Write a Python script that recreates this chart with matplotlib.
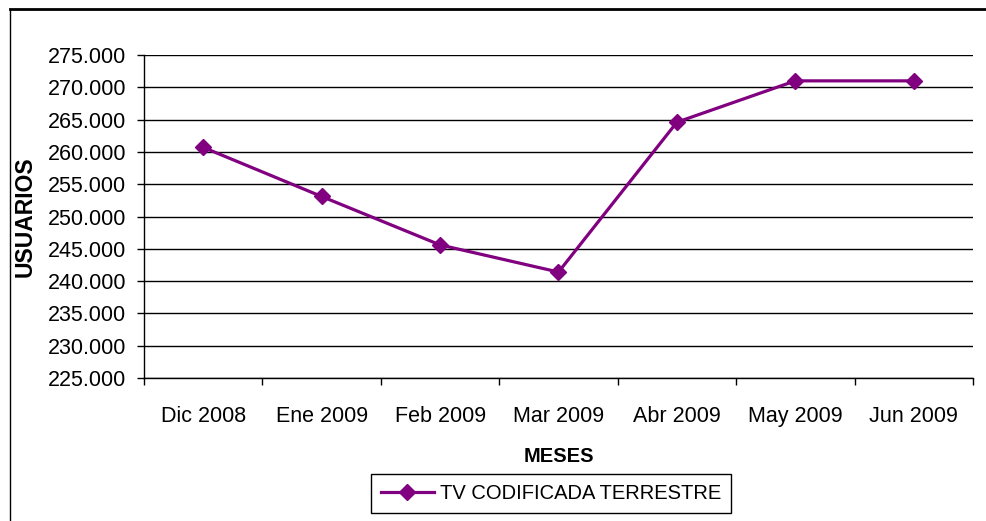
import matplotlib.pyplot as plt
from matplotlib.lines import Line2D
from matplotlib.ticker import FuncFormatter

# datos de usuarios por mes
meses = ['Dic 2008', 'Ene 2009', 'Feb 2009', 'Mar 2009', 'Abr 2009', 'May 2009', 'Jun 2009']
usuarios = [260700, 253100, 245600, 241400, 264600, 271000, 271000]
serie = 'TV CODIFICADA TERRESTRE'

plt.rcParams['font.family'] = ['Liberation Sans', 'DejaVu Sans']
morado = '#800080'

fig = plt.figure(figsize=(9.87, 5.21), dpi=100)
ax = fig.add_axes([0.1459, 0.2745, 0.8399, 0.6199])

pos = list(range(1, len(meses) + 1))
ax.plot(pos, usuarios, color=morado, linewidth=2.3, marker='D', markersize=8.5,
        label=serie)

ax.set_ylim(225000, 275000)
ax.set_yticks(range(225000, 275001, 5000))
ax.yaxis.set_major_formatter(FuncFormatter(lambda v, p: f'{int(v):,}'.replace(',', '.')))
ax.grid(axis='y', color='black', linewidth=1)
ax.set_axisbelow(True)

# ticks en los limites de cada categoria, etiquetas al centro
ax.set_xlim(0.5, len(meses) + 0.5)
ax.set_xticks([p - 0.5 for p in pos] + [len(meses) + 0.5])
ax.set_xticklabels([])
ax.set_xticks(pos, minor=True)
ax.set_xticklabels(meses, minor=True)
ax.tick_params(axis='x', which='major', direction='out', length=5, width=1, color='black')
ax.tick_params(axis='x', which='minor', length=0, pad=20, labelsize=15.5)
ax.tick_params(axis='y', direction='out', length=5, width=1, pad=8, labelsize=15.5)

for s in ['top', 'right']:
    ax.spines[s].set_visible(False)
for s in ['left', 'bottom']:
    ax.spines[s].set_color('black')
    ax.spines[s].set_linewidth(1)

fig.text(0.566, 1 - 456 / 521, 'MESES', ha='center', va='center',
         fontsize=14.5, fontweight='bold')
fig.text(25 / 987, 1 - 217 / 521, 'USUARIOS', ha='center', va='center',
         rotation=90, fontsize=16.5, fontweight='bold')

leg = fig.legend(loc='center', bbox_to_anchor=(551 / 987, 1 - 493.5 / 521),
                 fontsize=14.5, frameon=True, fancybox=False, edgecolor='black',
                 framealpha=1, handlelength=2.6, handletextpad=0.3,
                 borderpad=0.5, borderaxespad=0)
leg.get_frame().set_linewidth(1)

# marco exterior
fig.add_artist(Line2D([10 / 987, 1], [1 - 8.5 / 521, 1 - 8.5 / 521],
                      transform=fig.transFigure, color='black', linewidth=2))
fig.add_artist(Line2D([10.5 / 987, 10.5 / 987], [0, 1 - 8.5 / 521],
                      transform=fig.transFigure, color='black', linewidth=1))

fig.savefig('out.png', dpi=100)
